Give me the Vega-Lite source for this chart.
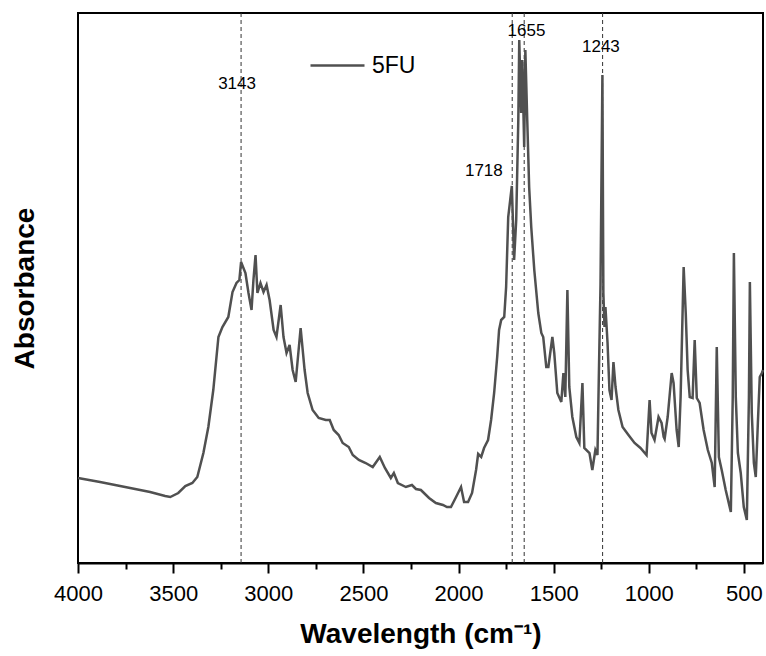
{
  "$schema": "https://vega.github.io/schema/vega-lite/v6.json",
  "width": 685,
  "height": 550,
  "autosize": {"type": "none"},
  "padding": {"left": 78, "top": 13, "right": 3, "bottom": 93},
  "config": {
    "font": "Liberation Sans",
    "view": {"stroke": "black", "strokeWidth": 2},
    "axis": {"grid": false}
  },
  "datasets": {
    "spectrum": [
      {"wavenumber": 4000, "absorbance": 85}, {"wavenumber": 3884, "absorbance": 81}, {"wavenumber": 3726, "absorbance": 75}, {"wavenumber": 3621, "absorbance": 71}, {"wavenumber": 3542, "absorbance": 67}, {"wavenumber": 3515, "absorbance": 66}, {"wavenumber": 3473, "absorbance": 70}, {"wavenumber": 3436, "absorbance": 77}, {"wavenumber": 3399, "absorbance": 80}, {"wavenumber": 3373, "absorbance": 86}, {"wavenumber": 3341, "absorbance": 110}, {"wavenumber": 3315, "absorbance": 136}, {"wavenumber": 3289, "absorbance": 173}, {"wavenumber": 3262, "absorbance": 226}, {"wavenumber": 3241, "absorbance": 236}, {"wavenumber": 3210, "absorbance": 246}, {"wavenumber": 3188, "absorbance": 271}, {"wavenumber": 3167, "absorbance": 280}, {"wavenumber": 3152, "absorbance": 283}, {"wavenumber": 3143, "absorbance": 301}, {"wavenumber": 3120, "absorbance": 290}, {"wavenumber": 3104, "absorbance": 270}, {"wavenumber": 3088, "absorbance": 253}, {"wavenumber": 3078, "absorbance": 283}, {"wavenumber": 3067, "absorbance": 308}, {"wavenumber": 3057, "absorbance": 270}, {"wavenumber": 3041, "absorbance": 280}, {"wavenumber": 3025, "absorbance": 271}, {"wavenumber": 3009, "absorbance": 278}, {"wavenumber": 2993, "absorbance": 263}, {"wavenumber": 2972, "absorbance": 233}, {"wavenumber": 2957, "absorbance": 226}, {"wavenumber": 2935, "absorbance": 258}, {"wavenumber": 2920, "absorbance": 226}, {"wavenumber": 2904, "absorbance": 210}, {"wavenumber": 2888, "absorbance": 218}, {"wavenumber": 2872, "absorbance": 193}, {"wavenumber": 2856, "absorbance": 181}, {"wavenumber": 2830, "absorbance": 235}, {"wavenumber": 2809, "absorbance": 193}, {"wavenumber": 2793, "absorbance": 170}, {"wavenumber": 2767, "absorbance": 153}, {"wavenumber": 2735, "absorbance": 145}, {"wavenumber": 2698, "absorbance": 143}, {"wavenumber": 2677, "absorbance": 143}, {"wavenumber": 2656, "absorbance": 133}, {"wavenumber": 2630, "absorbance": 128}, {"wavenumber": 2609, "absorbance": 120}, {"wavenumber": 2577, "absorbance": 116}, {"wavenumber": 2556, "absorbance": 108}, {"wavenumber": 2524, "absorbance": 103}, {"wavenumber": 2488, "absorbance": 100}, {"wavenumber": 2451, "absorbance": 96}, {"wavenumber": 2414, "absorbance": 106}, {"wavenumber": 2387, "absorbance": 95}, {"wavenumber": 2356, "absorbance": 85}, {"wavenumber": 2340, "absorbance": 90}, {"wavenumber": 2319, "absorbance": 80}, {"wavenumber": 2277, "absorbance": 76}, {"wavenumber": 2245, "absorbance": 78}, {"wavenumber": 2224, "absorbance": 74}, {"wavenumber": 2198, "absorbance": 73}, {"wavenumber": 2155, "absorbance": 65}, {"wavenumber": 2119, "absorbance": 60}, {"wavenumber": 2082, "absorbance": 58}, {"wavenumber": 2061, "absorbance": 56}, {"wavenumber": 2040, "absorbance": 56}, {"wavenumber": 2013, "absorbance": 66}, {"wavenumber": 1987, "absorbance": 76}, {"wavenumber": 1971, "absorbance": 61}, {"wavenumber": 1950, "absorbance": 61}, {"wavenumber": 1929, "absorbance": 70}, {"wavenumber": 1908, "absorbance": 93}, {"wavenumber": 1897, "absorbance": 109}, {"wavenumber": 1881, "absorbance": 106}, {"wavenumber": 1866, "absorbance": 115}, {"wavenumber": 1845, "absorbance": 123}, {"wavenumber": 1829, "absorbance": 143}, {"wavenumber": 1813, "absorbance": 170}, {"wavenumber": 1797, "absorbance": 206}, {"wavenumber": 1787, "absorbance": 233}, {"wavenumber": 1776, "absorbance": 243}, {"wavenumber": 1760, "absorbance": 246}, {"wavenumber": 1750, "absorbance": 276}, {"wavenumber": 1739, "absorbance": 346}, {"wavenumber": 1720, "absorbance": 377}, {"wavenumber": 1708, "absorbance": 303}, {"wavenumber": 1697, "absorbance": 343}, {"wavenumber": 1686, "absorbance": 443}, {"wavenumber": 1681, "absorbance": 523}, {"wavenumber": 1671, "absorbance": 450}, {"wavenumber": 1665, "absorbance": 503}, {"wavenumber": 1655, "absorbance": 416}, {"wavenumber": 1649, "absorbance": 513}, {"wavenumber": 1639, "absorbance": 443}, {"wavenumber": 1629, "absorbance": 376}, {"wavenumber": 1618, "absorbance": 336}, {"wavenumber": 1602, "absorbance": 293}, {"wavenumber": 1581, "absorbance": 250}, {"wavenumber": 1565, "absorbance": 230}, {"wavenumber": 1555, "absorbance": 226}, {"wavenumber": 1539, "absorbance": 196}, {"wavenumber": 1528, "absorbance": 196}, {"wavenumber": 1507, "absorbance": 226}, {"wavenumber": 1497, "absorbance": 210}, {"wavenumber": 1481, "absorbance": 170}, {"wavenumber": 1460, "absorbance": 161}, {"wavenumber": 1449, "absorbance": 190}, {"wavenumber": 1439, "absorbance": 166}, {"wavenumber": 1428, "absorbance": 273}, {"wavenumber": 1418, "absorbance": 176}, {"wavenumber": 1402, "absorbance": 146}, {"wavenumber": 1381, "absorbance": 126}, {"wavenumber": 1365, "absorbance": 120}, {"wavenumber": 1349, "absorbance": 180}, {"wavenumber": 1339, "absorbance": 115}, {"wavenumber": 1312, "absorbance": 110}, {"wavenumber": 1297, "absorbance": 93}, {"wavenumber": 1281, "absorbance": 113}, {"wavenumber": 1270, "absorbance": 108}, {"wavenumber": 1265, "absorbance": 163}, {"wavenumber": 1254, "absorbance": 278}, {"wavenumber": 1244, "absorbance": 488}, {"wavenumber": 1239, "absorbance": 270}, {"wavenumber": 1233, "absorbance": 236}, {"wavenumber": 1228, "absorbance": 256}, {"wavenumber": 1217, "absorbance": 220}, {"wavenumber": 1207, "absorbance": 173}, {"wavenumber": 1196, "absorbance": 163}, {"wavenumber": 1186, "absorbance": 201}, {"wavenumber": 1175, "absorbance": 176}, {"wavenumber": 1160, "absorbance": 153}, {"wavenumber": 1138, "absorbance": 136}, {"wavenumber": 1107, "absorbance": 128}, {"wavenumber": 1075, "absorbance": 120}, {"wavenumber": 1044, "absorbance": 115}, {"wavenumber": 1012, "absorbance": 108}, {"wavenumber": 996, "absorbance": 163}, {"wavenumber": 986, "absorbance": 130}, {"wavenumber": 970, "absorbance": 123}, {"wavenumber": 949, "absorbance": 146}, {"wavenumber": 933, "absorbance": 140}, {"wavenumber": 922, "absorbance": 126}, {"wavenumber": 917, "absorbance": 124}, {"wavenumber": 901, "absorbance": 146}, {"wavenumber": 880, "absorbance": 190}, {"wavenumber": 870, "absorbance": 180}, {"wavenumber": 854, "absorbance": 133}, {"wavenumber": 843, "absorbance": 116}, {"wavenumber": 833, "absorbance": 166}, {"wavenumber": 817, "absorbance": 296}, {"wavenumber": 806, "absorbance": 250}, {"wavenumber": 796, "absorbance": 193}, {"wavenumber": 785, "absorbance": 166}, {"wavenumber": 770, "absorbance": 165}, {"wavenumber": 759, "absorbance": 223}, {"wavenumber": 748, "absorbance": 165}, {"wavenumber": 733, "absorbance": 160}, {"wavenumber": 712, "absorbance": 133}, {"wavenumber": 690, "absorbance": 113}, {"wavenumber": 669, "absorbance": 100}, {"wavenumber": 654, "absorbance": 76}, {"wavenumber": 643, "absorbance": 216}, {"wavenumber": 632, "absorbance": 106}, {"wavenumber": 617, "absorbance": 93}, {"wavenumber": 596, "absorbance": 73}, {"wavenumber": 569, "absorbance": 51}, {"wavenumber": 559, "absorbance": 166}, {"wavenumber": 553, "absorbance": 310}, {"wavenumber": 543, "absorbance": 166}, {"wavenumber": 532, "absorbance": 110}, {"wavenumber": 517, "absorbance": 90}, {"wavenumber": 501, "absorbance": 56}, {"wavenumber": 485, "absorbance": 43}, {"wavenumber": 474, "absorbance": 166}, {"wavenumber": 469, "absorbance": 281}, {"wavenumber": 459, "absorbance": 150}, {"wavenumber": 448, "absorbance": 100}, {"wavenumber": 438, "absorbance": 86}, {"wavenumber": 427, "absorbance": 140}, {"wavenumber": 417, "absorbance": 186}, {"wavenumber": 406, "absorbance": 190}, {"wavenumber": 400, "absorbance": 193}
    ],
    "peaks": [
      {"wavenumber": 3143}, {"wavenumber": 1718}, {"wavenumber": 1655}, {"wavenumber": 1243}
    ],
    "labels": [
      {"wavenumber": 3164, "absorbance": 479, "label": "3143"},
      {"wavenumber": 1643, "absorbance": 532, "label": "1655"},
      {"wavenumber": 1252, "absorbance": 516, "label": "1243"},
      {"wavenumber": 1867, "absorbance": 392, "label": "1718"}
    ]
  },
  "layer": [
    {
      "data": {"name": "peaks"},
      "mark": {"type": "rule", "strokeDash": [4, 3], "strokeWidth": 1, "color": "#333333"},
      "encoding": {
        "x": {
          "field": "wavenumber", "type": "quantitative",
          "scale": {"domain": [400, 4000], "reverse": true, "nice": false, "zero": false},
          "axis": {"orient": "bottom", "values": [3750, 3250, 2750, 2250, 1750, 1250, 750], "labels": false, "title": null, "domain": false, "tickSize": 6, "tickWidth": 2, "tickColor": "black", "grid": false}
        }
      }
    },
    {
      "data": {"name": "spectrum"},
      "mark": {"type": "line", "strokeWidth": 2.5},
      "encoding": {
        "x": {
          "field": "wavenumber", "type": "quantitative",
          "scale": {"domain": [400, 4000], "reverse": true, "nice": false, "zero": false},
          "axis": {"orient": "bottom", "values": [4000, 3500, 3000, 2500, 2000, 1500, 1000, 500], "format": "d", "title": "Wavelength (cm⁻¹)", "titleFontSize": 28, "titleFontWeight": "bold", "titleColor": "black", "titlePadding": 16, "labelFontSize": 22, "labelColor": "black", "labelPadding": 10, "labelFlush": false, "labelOverlap": false, "tickSize": 10, "tickWidth": 2, "tickColor": "black", "domainColor": "black", "domainWidth": 2}
        },
        "y": {
          "field": "absorbance", "type": "quantitative",
          "scale": {"domain": [0, 550], "nice": false, "zero": false},
          "axis": {"title": "Absorbance", "labels": false, "ticks": false, "domain": false, "titleFontSize": 28, "titleFontWeight": "bold", "titleColor": "black", "titlePadding": 39}
        },
        "color": {
          "datum": "5FU", "type": "nominal",
          "scale": {"range": ["#505050"]},
          "legend": {"orient": "none", "legendX": 231, "legendY": 24, "title": null, "symbolType": "stroke", "symbolSize": 2916, "symbolStrokeWidth": 2.5, "labelFontSize": 23, "labelOffset": 6, "padding": 0, "labelColor": "black"}
        }
      }
    },
    {
      "data": {"name": "labels"},
      "mark": {"type": "text", "fontSize": 17, "align": "center", "baseline": "middle", "color": "black"},
      "encoding": {
        "x": {"field": "wavenumber", "type": "quantitative", "scale": {"domain": [400, 4000], "reverse": true, "nice": false, "zero": false}, "axis": null},
        "y": {"field": "absorbance", "type": "quantitative", "scale": {"domain": [0, 550], "nice": false, "zero": false}, "axis": null},
        "text": {"field": "label"}
      }
    }
  ],
  "resolve": {"axis": {"x": "independent", "y": "independent"}}
}
